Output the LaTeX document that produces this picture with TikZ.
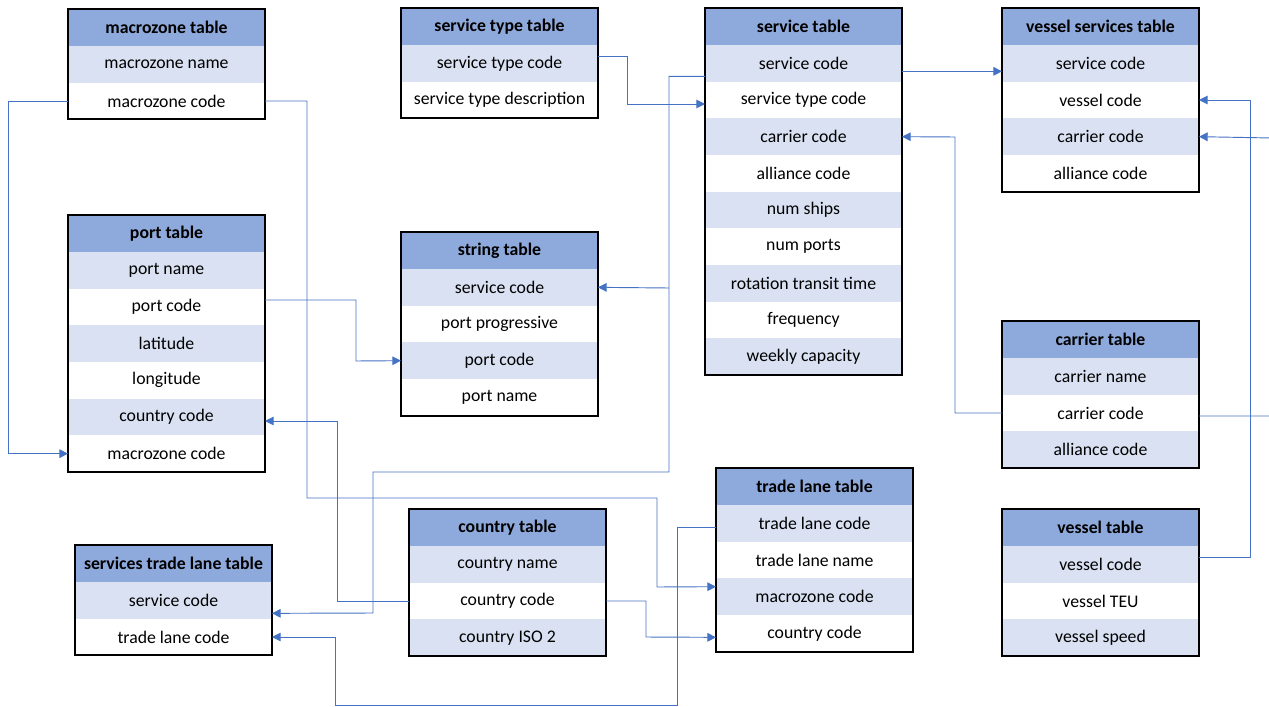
\documentclass[tikz,border=0pt]{standalone}
\usepackage{fontspec}
\setmainfont{Carlito}
\usetikzlibrary{positioning,arrows.meta,calc}

\definecolor{hdrblue}{HTML}{8EA9DB}
\definecolor{rowblue}{HTML}{D9E1F2}
\definecolor{linkblue}{HTML}{4472C4}

% table: name, left, top, title, rows
\newcommand{\dbtable}[5]{%
  \node[hdr, anchor=north west] (#1-0) at (#2,#3) {#4};
  \foreach \txt [count=\i] in {#5} {
    \pgfmathtruncatemacro{\prev}{\i-1}
    \ifodd\i \def\cellfill{rowblue}\else \def\cellfill{white}\fi
    \node[cell, fill=\cellfill, below=0pt of #1-\prev] (#1-\i) {\txt};
    \xdef\lastrow{\i}
  }
  \draw[frame] (#1-0.north west) rectangle (#1-\lastrow.south east);
}

\begin{document}
\begin{tikzpicture}[x=0.75pt, y=-0.75pt,
  hdr/.style={fill=hdrblue, minimum width=147.75pt, minimum height=27.75pt,
    inner sep=0pt, outer sep=0pt, font=\fontsize{13.3}{15}\selectfont\bfseries},
  cell/.style={minimum width=147.75pt, minimum height=27.5pt,
    inner sep=0pt, outer sep=0pt, font=\fontsize{13.3}{15}\selectfont},
  frame/.style={draw=black, line width=1.6pt},
  link/.style={draw=linkblue, line width=0.7pt, -{Triangle[length=6.5pt,width=6.5pt]}}]
\useasboundingbox (0,0) rectangle (1269,706);

\dbtable{mz}{68}{9}{macrozone table}{macrozone name, macrozone code}
\dbtable{pt}{68}{215}{port table}{port name, port code, latitude, longitude, country code, macrozone code}
\dbtable{stt}{401}{8}{service type table}{service type code, service type description}
\dbtable{st}{401}{232}{string table}{service code, port progressive, port code, port name}
\dbtable{sv}{705}{8}{service table}{service code, service type code, carrier code, alliance code, num ships, num ports, rotation transit time, frequency, weekly capacity}
\dbtable{vs}{1002}{8}{vessel services table}{service code, vessel code, carrier code, alliance code}
\dbtable{cr}{1002}{321}{carrier table}{carrier name, carrier code, alliance code}
\dbtable{vt}{1002}{509}{vessel table}{vessel code, vessel TEU, vessel speed}
\dbtable{tl}{716}{468}{trade lane table}{trade lane code, trade lane name, macrozone code, country code}
\dbtable{ct}{409}{509}{country table}{country name, country code, country ISO 2}
\dbtable{stl}{75}{545}{services trade lane table}{service code, trade lane code}

\draw[link] (mz-2.west) -- ++(-60,0) |- (pt-6.west);
\draw[link] (mz-2.east) -| (307,498) -| (657,587) -- ($(tl-3.west)+(0,-10)$);
\draw[link] ($(pt-2.east)+(0,-7)$) -| (356,361) -- (st-3.west);
\draw[link] ($(stt-1.east)+(0,-7)$) -| (627,104) -- ($(sv-2.west)+(0,4)$);
\draw[link] ($(sv-1.west)+(0,13)$) -| (669,472) -| (373,613) -- ($(stl-1.east)+(0,13)$);
\coordinate (split) at (669,288);
\draw[link] (split) -- (st-1.east);
\draw[link] ($(sv-1.east)+(0,8)$) -- ($(vs-1.west)+(0,8)$);
\draw[link] (cr-2.west) -| (955,137) -- (sv-3.east);
\draw[link] ($(cr-2.east)+(0,3)$) -| (1272,138) -- (vs-3.east);
\draw[link] ($(vt-1.east)+(0,-7)$) -| (1250,100) -- (vs-2.east);
\draw[link] (ct-2.west) -| (337,421) -- ($(pt-5.east)+(0,4)$);
\draw[link] (ct-2.east) -| (646,637) -- ($(tl-4.west)+(0,4)$);
\draw[link] ($(tl-1.west)+(0,4)$) -| (677,705) -| (335,637) -- (stl-2.east);
\end{tikzpicture}
\end{document}
